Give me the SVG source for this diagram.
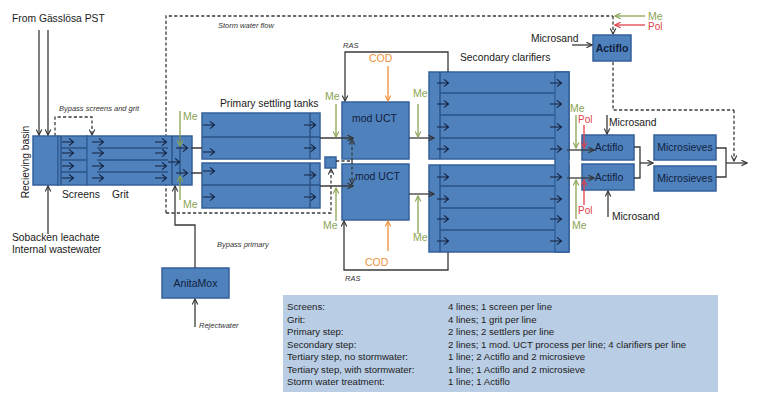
<svg xmlns="http://www.w3.org/2000/svg" xmlns:xlink="http://www.w3.org/1999/xlink" width="758" height="400" viewBox="0 0 758 400">
<style>
.box{fill:#4f81bd;stroke:#34609a;stroke-width:1.5}
.dv{stroke:#2b5387;stroke-width:1.4;fill:none}
.c{stroke:#3a3a3a;stroke-width:1.3;fill:none}
.ca{marker-end:url(#a)}
.d{stroke-dasharray:3.2,2.2}
.gl{stroke:#8aa453;stroke-width:1.3;fill:none;marker-end:url(#ag)}
.rl{stroke:#e0404a;stroke-width:1.3;fill:none;marker-end:url(#ar)}
.ol{stroke:#f0903a;stroke-width:1.3;fill:none;marker-end:url(#ao)}
text{font-family:"Liberation Sans",Arial,sans-serif;fill:#1a1a1a}
.l{font-size:10.3px}
.n{font-size:10.5px;fill:#0f1f3d}
.it{font-style:italic;font-size:7.5px;fill:#333}
.g{fill:#8aa453;font-size:10.5px}
.r{fill:#e0404a;font-size:10px}
.o{fill:#f0903a;font-size:10.5px}
.tb{font-size:9.6px;fill:#222}
</style>
<defs>
<marker id="a" viewBox="0 0 10 10" refX="9" refY="5" markerWidth="7" markerHeight="7" orient="auto" markerUnits="userSpaceOnUse"><path d="M1,1L9,5L1,9" fill="none" stroke="#333" stroke-width="1.6"/></marker>
<marker id="ag" viewBox="0 0 10 10" refX="9" refY="5" markerWidth="7" markerHeight="7" orient="auto" markerUnits="userSpaceOnUse"><path d="M1,1L9,5L1,9" fill="none" stroke="#8aa453" stroke-width="1.6"/></marker>
<marker id="ar" viewBox="0 0 10 10" refX="9" refY="5" markerWidth="7" markerHeight="7" orient="auto" markerUnits="userSpaceOnUse"><path d="M1,1L9,5L1,9" fill="none" stroke="#e0404a" stroke-width="1.6"/></marker>
<marker id="ao" viewBox="0 0 10 10" refX="9" refY="5" markerWidth="7" markerHeight="7" orient="auto" markerUnits="userSpaceOnUse"><path d="M1,1L9,5L1,9" fill="none" stroke="#f0903a" stroke-width="1.6"/></marker>
<g id="ia"><path d="M0,0H11M7,-3.6L11.5,0L7,3.6" fill="none" stroke="#14213d" stroke-width="1.1"/></g>
</defs>

<g id="connectors-back">
<path class="c d" d="M166,213V16H613"/>
<path class="c d ca" d="M613,16V34"/>
<path class="c d ca" d="M166,213H331V169"/>
<path class="c d ca" d="M55,136V117H92V135"/>
</g>

<g id="receiving-basin">
<rect class="box" x="33" y="136" width="25" height="49"/>
</g>
<g id="screens">
<rect class="box" x="58" y="136" width="29" height="49"/>
<path class="dv" d="M61,148H87M61,160H87M61,172H87M61,136V185"/>
<use xlink:href="#ia" x="62" y="142"/><use xlink:href="#ia" x="62" y="153"/><use xlink:href="#ia" x="62" y="166"/><use xlink:href="#ia" x="62" y="178"/>
</g>
<g id="grit">
<rect class="box" x="87" y="136" width="105" height="49"/>
<path class="dv" d="M97,148H168M97,160H168M97,172H168M172,136V185M180,136V185"/>
<use xlink:href="#ia" x="92" y="142"/><use xlink:href="#ia" x="92" y="153"/><use xlink:href="#ia" x="92" y="166"/><use xlink:href="#ia" x="92" y="178"/>
<use xlink:href="#ia" x="155" y="142"/><use xlink:href="#ia" x="155" y="153"/><use xlink:href="#ia" x="155" y="166"/><use xlink:href="#ia" x="155" y="178"/>
<use xlink:href="#ia" x="176" y="148"/><use xlink:href="#ia" x="168" y="162"/><use xlink:href="#ia" x="176" y="173"/>
</g>

<g id="primary-1">
<rect class="box" x="202" y="113" width="118" height="46"/>
<path class="dv" d="M202,137H320M310,113V159"/>
<use xlink:href="#ia" x="203" y="125"/><use xlink:href="#ia" x="203" y="152"/>
<use xlink:href="#ia" x="304" y="125"/><use xlink:href="#ia" x="304" y="148"/>
</g>
<g id="primary-2">
<rect class="box" x="202" y="163" width="118" height="45"/>
<path class="dv" d="M202,185H320M310,163V208"/>
<use xlink:href="#ia" x="203" y="171"/><use xlink:href="#ia" x="203" y="197"/>
<use xlink:href="#ia" x="304" y="175"/><use xlink:href="#ia" x="304" y="197"/>
</g>

<g id="storm-split"><rect class="box" x="325" y="157" width="11" height="11" stroke-width="1.2"/></g>

<g id="uct-1"><rect class="box" x="342" y="102" width="67" height="57"/><text class="n" x="352" y="122">mod UCT</text></g>
<g id="uct-2"><rect class="box" x="342" y="164" width="67" height="56"/><text class="n" x="355" y="180">mod UCT</text></g>

<g id="clarifiers-1">
<rect class="box" x="429" y="72" width="140" height="87"/>
<path class="dv" d="M440,72V159M440,93H555M440,115H555M440,138H555"/>
<use xlink:href="#ia" x="437" y="83"/><use xlink:href="#ia" x="437" y="104"/><use xlink:href="#ia" x="437" y="127"/><use xlink:href="#ia" x="437" y="149"/>
</g>
<g id="clarifiers-2">
<rect class="box" x="429" y="165" width="140" height="87"/>
<path class="dv" d="M440,165V252M440,186H555M440,208H555M440,230H555"/>
<use xlink:href="#ia" x="437" y="177"/><use xlink:href="#ia" x="437" y="199"/><use xlink:href="#ia" x="437" y="219"/><use xlink:href="#ia" x="437" y="241"/>
</g>
<g id="clarifier-outlet">
<rect class="box" x="555" y="72" width="14" height="180"/>
<use xlink:href="#ia" x="550" y="83"/><use xlink:href="#ia" x="550" y="104"/><use xlink:href="#ia" x="550" y="127"/><use xlink:href="#ia" x="550" y="149"/>
<use xlink:href="#ia" x="550" y="177"/><use xlink:href="#ia" x="550" y="199"/><use xlink:href="#ia" x="550" y="219"/><use xlink:href="#ia" x="550" y="241"/>
</g>

<g id="actiflo-storm"><rect class="box" x="593" y="35" width="38" height="26"/><text class="n" x="612" y="52" text-anchor="middle" font-weight="bold" font-size="10px">Actiflo</text></g>
<g id="actiflo-1"><rect class="box" x="582" y="135" width="52" height="25"/><text class="n" x="609" y="151" text-anchor="middle">Actiflo</text></g>
<g id="actiflo-2"><rect class="box" x="582" y="164" width="52" height="26"/><text class="n" x="609" y="181" text-anchor="middle">Actiflo</text></g>
<g id="microsieves-1"><rect class="box" x="654" y="135" width="62" height="25"/><text class="n" x="685" y="151" text-anchor="middle">Microsieves</text></g>
<g id="microsieves-2"><rect class="box" x="654" y="166" width="62" height="25"/><text class="n" x="685" y="182" text-anchor="middle">Microsieves</text></g>
<g id="anitamox"><rect class="box" x="162" y="268" width="67" height="30"/><text class="n" x="195.5" y="287" text-anchor="middle">AnitaMox</text></g>

<g id="connectors">
<path class="c ca" d="M39,30V135"/>
<path class="c ca" d="M48,30V135"/>
<path class="c ca" d="M48,234V186"/>
<path class="c" d="M191,148H202M191,173H202"/>
<path class="c ca" d="M195,268V225H175V186"/>
<path class="c ca" d="M195,327V299"/>
<path class="c ca" d="M320,138H353"/>
<path class="c ca" d="M320,186H353"/>
<path class="c d" d="M336,161H352"/>
<path class="c d ca" d="M352,161V139"/>
<path class="c d ca" d="M352,161V184"/>
<path class="c ca" d="M409,138H434"/>
<path class="c ca" d="M409,194H434"/>
<path class="c ca" d="M448,72V52H345V101"/>
<path class="c ca" d="M448,252V270H344V221"/>
<path class="c ca" d="M567,150H594"/>
<path class="c ca" d="M567,178H594"/>
<path class="c" d="M634,147H640V178H634"/>
<path class="c ca" d="M640,163H653"/>
<path class="c" d="M716,148H726V177H716"/>
<path class="c ca" d="M726,163H747"/>
<path class="c d" d="M613,62V110H734"/>
<path class="c d ca" d="M734,110V161"/>
<path class="c ca" d="M572,45H592"/>
<path class="c ca" d="M607,115V134"/>
<path class="c ca" d="M608,217V191"/>
<path class="gl" d="M180,111V146"/>
<path class="gl" d="M180,200V176"/>
<path class="gl" d="M336,104V137"/>
<path class="gl" d="M336,221V188"/>
<path class="gl" d="M418,104V137"/>
<path class="gl" d="M418,234V196"/>
<path class="gl" d="M576,115V148"/>
<path class="gl" d="M576,219V180"/>
<path class="rl" d="M584,125V148"/>
<path class="rl" d="M584,205V180"/>
<path class="gl" d="M645,16H615"/>
<path class="rl" d="M645,25H615"/>
<path class="ol" d="M388,66V101"/>
<path class="ol" d="M388,251V221"/>
</g>

<g id="labels">
<text class="l" x="12" y="22">From Gässlösa PST</text>
<text class="it" x="59" y="111">Bypass screens and grit</text>
<text class="l" transform="translate(29,162) rotate(-90)" text-anchor="middle" font-size="10.5px">Recieving basin</text>
<text class="l" x="62" y="198">Screens</text>
<text class="l" x="112" y="198">Grit</text>
<text class="l" x="12" y="241">Sobacken leachate</text>
<text class="l" x="12" y="253">Internal wastewater</text>
<text class="it" x="218" y="28">Storm water flow</text>
<text class="l" x="220" y="107" font-size="10.5px">Primary settling tanks</text>
<text class="l" x="460" y="61" font-size="10.5px">Secondary clarifiers</text>
<text class="it" x="217" y="247">Bypass primary</text>
<text class="it" x="199" y="328" font-size="8px">Rejectwater</text>
<text class="it" x="343" y="48">RAS</text>
<text class="it" x="345" y="281">RAS</text>
<text class="o" x="369" y="62">COD</text>
<text class="o" x="365" y="266">COD</text>
<text class="g" x="183" y="120">Me</text>
<text class="g" x="183" y="208">Me</text>
<text class="g" x="325" y="100">Me</text>
<text class="g" x="323" y="229">Me</text>
<text class="g" x="413" y="97">Me</text>
<text class="g" x="413" y="241">Me</text>
<text class="g" x="570" y="112">Me</text>
<text class="g" x="572" y="229">Me</text>
<text class="g" x="648" y="20">Me</text>
<text class="r" x="578" y="123">Pol</text>
<text class="r" x="578" y="214">Pol</text>
<text class="r" x="648" y="30">Pol</text>
<text class="l" x="531" y="42">Microsand</text>
<text class="l" x="609" y="126" font-size="11px">Microsand</text>
<text class="l" x="612" y="220" font-size="11px">Microsand</text>
</g>

<g id="summary">
<rect x="283" y="295" width="435" height="97" fill="#b9cde5"/>
<text class="tb" x="287" y="310">Screens:</text>
<text class="tb" x="287" y="322.5">Grit:</text>
<text class="tb" x="287" y="335">Primary step:</text>
<text class="tb" x="287" y="347.5">Secondary step:</text>
<text class="tb" x="287" y="360">Tertiary step, no stormwater:</text>
<text class="tb" x="287" y="372.5">Tertiary step, with stormwater:</text>
<text class="tb" x="287" y="385">Storm water treatment:</text>
<text class="tb" x="448" y="310">4 lines; 1 screen per line</text>
<text class="tb" x="448" y="322.5">4 lines; 1 grit per line</text>
<text class="tb" x="448" y="335">2 lines; 2 settlers per line</text>
<text class="tb" x="448" y="347.5">2 lines; 1 mod. UCT process per line; 4 clarifiers per line</text>
<text class="tb" x="448" y="360">1 line; 2 Actiflo and 2 microsieve</text>
<text class="tb" x="448" y="372.5">1 line; 1 Actiflo and 2 microsieve</text>
<text class="tb" x="448" y="385">1 line; 1 Actiflo</text>
</g>
</svg>
